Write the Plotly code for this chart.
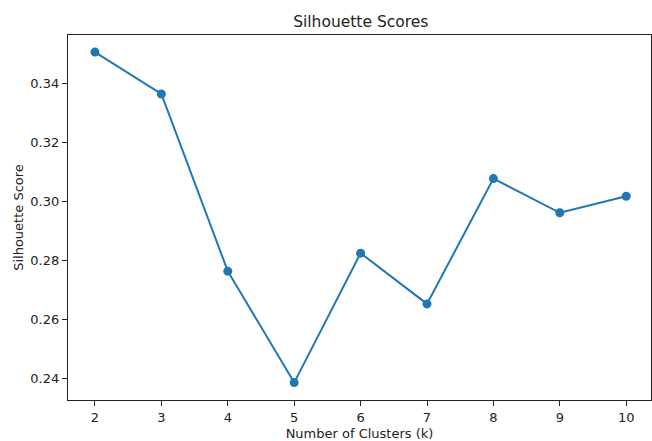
import plotly.graph_objects as go

k_values = [2, 3, 4, 5, 6, 7, 8, 9, 10]
silhouette_scores = [0.3506, 0.3364, 0.2763, 0.2385, 0.2824, 0.2652, 0.3077, 0.2961, 0.3017]
y_ticks = [0.24, 0.26, 0.28, 0.30, 0.32, 0.34]
x_ticks = [2, 3, 4, 5, 6, 7, 8, 9, 10]

fig = go.Figure()
fig.add_trace(go.Scatter(
    x=k_values, y=silhouette_scores, mode="lines+markers",
    line=dict(color="#1f77b4", width=2),
    marker=dict(color="#1f77b4", size=9),
    showlegend=False,
))

font = dict(family="DejaVu Sans", size=13, color="#222222")
fig.update_layout(
    width=652, height=441,
    margin=dict(l=68, r=1, t=35, b=41, autoexpand=False),
    paper_bgcolor="white", plot_bgcolor="white",
    font=font,
    title=dict(text="Silhouette Scores", x=360.8 / 652, xanchor="center",
               y=1 - 22 / 441, yanchor="middle", yref="container",
               font=dict(family="DejaVu Sans", size=15.5, color="#222222")),
)
fig.update_xaxes(
    range=[1.594, 10.373], tickvals=x_ticks, ticktext=[str(v) for v in x_ticks],
    showgrid=False, zeroline=False, showline=True, linecolor="#222222", linewidth=1.2,
    mirror=True, ticks="outside", ticklen=5, tickcolor="#222222", automargin=False,
    title=dict(text="Number of Clusters (k)", standoff=5, font=font),
)
fig.update_yaxes(
    range=[0.2326, 0.3564], tickvals=y_ticks, ticktext=[f"{v:.2f}" for v in y_ticks],
    showgrid=False, zeroline=False, showline=True, linecolor="#222222", linewidth=1.2,
    mirror=True, ticks="outside", ticklen=5, tickcolor="#222222", automargin=False,
    title=dict(text="Silhouette Score", standoff=3, font=font),
)

fig.write_html(
    "out.html",
    config={"displayModeBar": False},
    post_script="document.body.style.margin='0';document.body.style.overflow='hidden';",
)
